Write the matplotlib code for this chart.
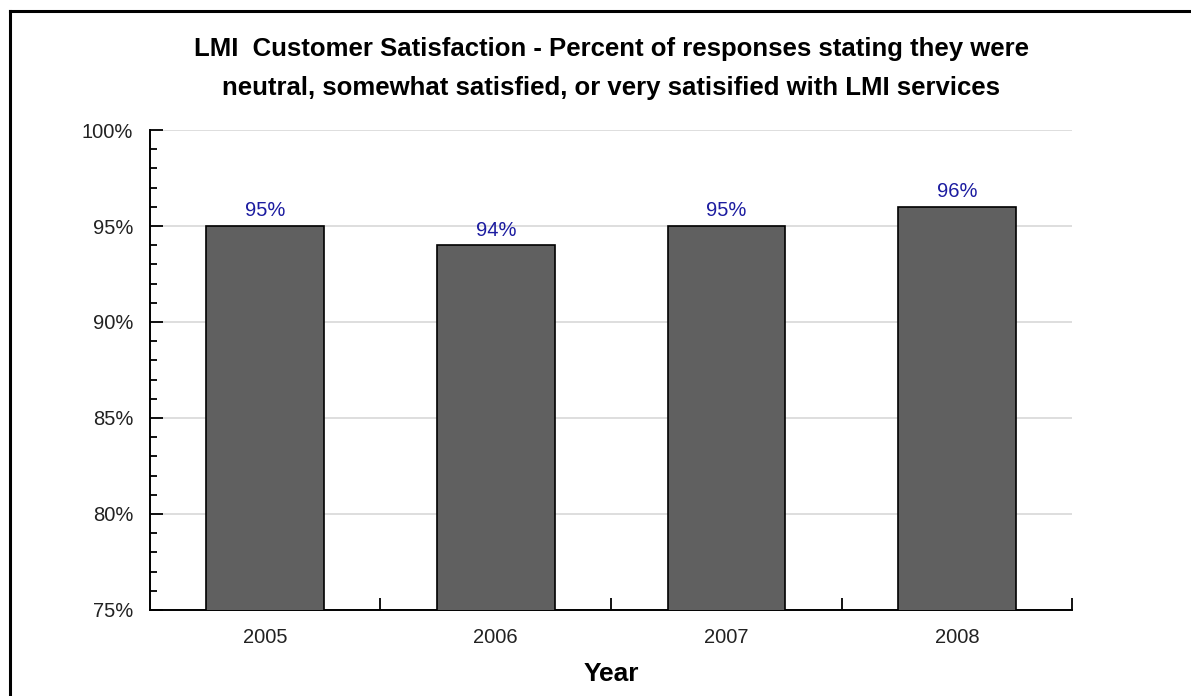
import matplotlib

matplotlib.use("Agg")
import matplotlib.pyplot as plt
from matplotlib.lines import Line2D
from matplotlib.ticker import FixedLocator, MultipleLocator, FuncFormatter

# survey results, share of responses neutral or better
years = ["2005", "2006", "2007", "2008"]
satisfied_pct = [95, 94, 95, 96]
value_labels = ["95%", "94%", "95%", "96%"]
y_ticks = [75, 80, 85, 90, 95, 100]

plt.rcParams["font.family"] = ["Liberation Sans", "DejaVu Sans"]

fig = plt.figure(figsize=(11.91, 6.96), dpi=100)
ax = fig.add_axes([0.1259, 0.1236, 0.7743, 0.6896])

x = list(range(len(years)))
ax.bar(x, satisfied_pct, width=0.51, color="#606060", edgecolor="black",
       linewidth=1.2, zorder=3)

for xi, v, lab in zip(x, satisfied_pct, value_labels):
    ax.annotate(lab, (xi, v), xytext=(0, 4), textcoords="offset points",
                ha="center", va="bottom", fontsize=14.5, color="#1c1ca0")

ax.set_xlim(-0.5, len(years) - 0.5)
ax.set_ylim(75, 100)

ax.yaxis.set_major_locator(FixedLocator(y_ticks))
ax.yaxis.set_minor_locator(MultipleLocator(1))
ax.yaxis.set_major_formatter(FuncFormatter(lambda v, _: f"{v:.0f}%"))
ax.grid(axis="y", color="#d8d8d8", linewidth=1.2, zorder=0)

ax.set_xticks(x)
ax.set_xticklabels(years)
ax.xaxis.set_minor_locator(FixedLocator([i + 0.5 for i in x]))
ax.tick_params(axis="x", which="major", length=0, pad=13, labelsize=14.5,
               labelcolor="#222222")
ax.tick_params(axis="x", which="minor", direction="in", length=9, width=1.3)
ax.tick_params(axis="y", which="major", direction="in", length=9, width=1.3,
               labelsize=14.5, pad=12, labelcolor="#222222")
ax.tick_params(axis="y", which="minor", direction="in", length=5, width=1.3)

for side in ("top", "right"):
    ax.spines[side].set_visible(False)
for side in ("left", "bottom"):
    ax.spines[side].set_linewidth(1.4)

ax.set_xlabel("Year", fontsize=19, fontweight="bold", labelpad=11)
ax.set_title("LMI  Customer Satisfaction - Percent of responses stating they were\n"
             "neutral, somewhat satisfied, or very satisified with LMI services",
             fontsize=18.5, fontweight="bold", linespacing=1.8, pad=25)

# frame lines along the left and top edge of the figure
fig.add_artist(Line2D([0.0084, 0.0084], [0, 0.984], color="black", linewidth=2.2,
                      transform=fig.transFigure))
fig.add_artist(Line2D([0.0084, 1.0], [0.984, 0.984], color="black", linewidth=2.2,
                      transform=fig.transFigure))

fig.savefig("out.png", dpi=100)
